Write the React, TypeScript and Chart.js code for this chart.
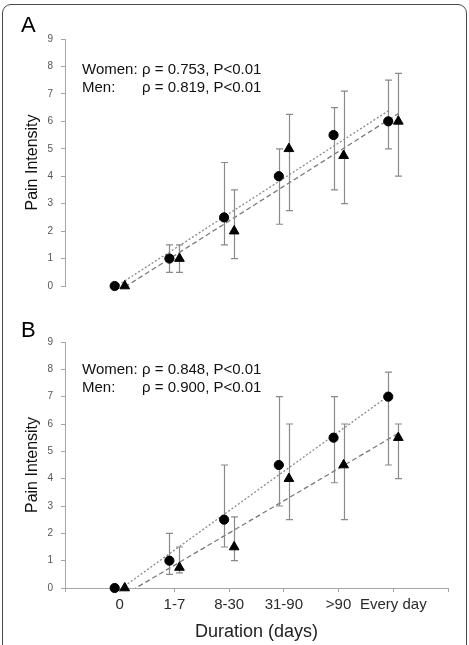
import React, { useEffect, useRef } from "react";
import { Chart, registerables } from "chart.js";

Chart.register(...registerables);

const FONT = "'Liberation Sans', Arial, sans-serif";

const categories = ["0", "1-7", "8-30", "31-90", ">90", "Every day"];

// Panel A
const womenA = [0, 1, 2.5, 4, 5.5, 6];
const womenALow = [0, 0.5, 1.5, 2.25, 3.5, 5];
const womenAHigh = [0, 1.5, 4.5, 5, 6.5, 7.5];
const menA = [0, 1, 2, 5, 4.75, 6];
const menALow = [0, 0.5, 1, 2.75, 3, 4];
const menAHigh = [0, 1.5, 3.5, 6.25, 7.1, 7.75];
const womenATrend = [-0.05, 6.38];
const menATrend = [-0.04, 6.28];

// Panel B
const womenB = [0, 1, 2.5, 4.5, 5.5, 7];
const womenBLow = [0, 0.5, 1.5, 3, 3.85, 4.5];
const womenBHigh = [0, 2, 4.5, 7, 7, 7.9];
const menB = [0, 0.75, 1.5, 4, 4.5, 5.5];
const menBLow = [0, 0.55, 1, 2.5, 2.5, 4];
const menBHigh = [0, 1.5, 2.6, 6, 6, 6];
const womenBTrend = [-0.19, 7.02];
const menBTrend = [-0.24, 5.66];

const OFFSET = 0.092;

const errorBarPlugin = {
  id: "errorBars",
  beforeDatasetDraw(chart: any, args: any) {
    const ds: any = chart.data.datasets[args.index];
    if (!ds.errLow) return;
    const xs = chart.scales.x;
    const ys = chart.scales.y;
    const ctx = chart.ctx;
    ctx.save();
    ctx.strokeStyle = "#8a8a8a";
    ctx.lineWidth = 1.2;
    ds.data.forEach((p: any, i: number) => {
      const lo = ds.errLow[i];
      const hi = ds.errHigh[i];
      if (lo === hi) return;
      const px = Math.round(xs.getPixelForValue(p.x)) + 0.5;
      const y1 = ys.getPixelForValue(lo);
      const y2 = ys.getPixelForValue(hi);
      ctx.beginPath();
      ctx.moveTo(px, y1);
      ctx.lineTo(px, y2);
      ctx.moveTo(px - 3.5, y1);
      ctx.lineTo(px + 3.5, y1);
      ctx.moveTo(px - 3.5, y2);
      ctx.lineTo(px + 3.5, y2);
      ctx.stroke();
    });
    ctx.restore();
  },
};

type PanelProps = {
  women: number[];
  wLow: number[];
  wHigh: number[];
  men: number[];
  mLow: number[];
  mHigh: number[];
  wTrend: number[];
  mTrend: number[];
  showX: boolean;
  width: number;
  height: number;
  padTop: number;
  padBottom: number;
  top: number;
};

function Panel(props: PanelProps) {
  const ref = useRef<HTMLCanvasElement>(null);
  useEffect(() => {
    const p = props;
    const n = p.women.length;
    const chart = new Chart(ref.current as HTMLCanvasElement, {
      type: "scatter",
      data: {
        datasets: [
          {
            data: [
              { x: -OFFSET, y: p.wTrend[0] },
              { x: n - 1 - OFFSET, y: p.wTrend[1] },
            ],
            showLine: true,
            borderColor: "#8a8a8a",
            borderWidth: 1.3,
            borderDash: [2, 2],
            pointRadius: 0,
            clip: 0,
            order: 2,
          } as any,
          {
            data: [
              { x: OFFSET, y: p.mTrend[0] },
              { x: n - 1 + OFFSET, y: p.mTrend[1] },
            ],
            showLine: true,
            borderColor: "#7a7a7a",
            borderWidth: 1.3,
            borderDash: [5, 3],
            pointRadius: 0,
            clip: 0,
            order: 2,
          } as any,
          {
            data: p.women.map((v, i) => ({ x: i - OFFSET, y: v })),
            errLow: p.wLow,
            errHigh: p.wHigh,
            pointStyle: "circle",
            pointRadius: 4.6,
            borderWidth: 1,
            backgroundColor: "#000",
            borderColor: "#000",
            clip: false,
            order: 0,
          } as any,
          {
            data: p.men.map((v, i) => ({ x: i + OFFSET, y: v })),
            errLow: p.mLow,
            errHigh: p.mHigh,
            pointStyle: "triangle",
            pointRadius: 5.6,
            borderWidth: 1,
            backgroundColor: "#000",
            borderColor: "#000",
            clip: false,
            order: 1,
          } as any,
        ],
      },
      options: {
        responsive: false,
        maintainAspectRatio: false,
        animation: false,
        events: [],
        layout: {
          padding: { left: 0, right: 21, top: p.padTop, bottom: p.padBottom },
        },
        plugins: {
          legend: { display: false },
          tooltip: { enabled: false },
        },
        scales: {
          x: {
            type: "linear",
            min: -1,
            max: 6,
            display: p.showX,
            ticks: {
              stepSize: 1,
              autoSkip: false,
              maxRotation: 0,
              minRotation: 0,
              color: "#2a2a2a",
              font: { family: FONT, size: 15 },
              padding: 4,
              callback: (value: any) => {
                const i = Number(value);
                return Number.isInteger(i) && i >= 0 && i < categories.length
                  ? categories[i]
                  : "";
              },
            },
            grid: {
              drawOnChartArea: false,
              drawTicks: true,
              tickLength: 4,
              color: "#a6a6a6",
            },
            border: { color: "#a6a6a6", width: 1 },
            title: {
              display: true,
              text: "Duration (days)",
              color: "#222",
              font: { family: FONT, size: 18 },
              padding: { top: 0, bottom: 2 },
            },
            afterFit: (s: any) => {
              s.height = p.showX ? 57 : 0;
            },
          } as any,
          y: {
            min: 0,
            max: 9,
            ticks: {
              stepSize: 1,
              color: "#555",
              font: { family: FONT, size: 10 },
              padding: 8,
            },
            grid: {
              drawOnChartArea: false,
              drawTicks: true,
              tickLength: 4,
              color: "#a6a6a6",
            },
            border: { color: "#a6a6a6", width: 1 },
            title: {
              display: true,
              text: "Pain Intensity",
              color: "#111",
              font: { family: FONT, size: 16 },
              padding: { top: 23.4, bottom: 0 },
            },
            afterFit: (s: any) => {
              s.width = 65;
            },
          } as any,
        },
      },
      plugins: [errorBarPlugin],
    });
    return () => chart.destroy();
  }, []);
  return (
    <canvas
      ref={ref}
      width={props.width}
      height={props.height}
      style={{
        position: "absolute",
        left: 0,
        top: props.top,
        width: props.width,
        height: props.height,
        display: "block",
      }}
    />
  );
}

const textStyle: React.CSSProperties = {
  position: "absolute",
  left: 82,
  fontFamily: FONT,
  fontSize: 15,
  lineHeight: "18px",
  color: "#111",
  whiteSpace: "nowrap",
  zIndex: 2,
};

function Stats({ top, w, m }: { top: number; w: string; m: string }) {
  return (
    <div style={{ ...textStyle, top }}>
      <div>
        <span style={{ display: "inline-block", width: 60 }}>Women:</span>
        {w}
      </div>
      <div>
        <span style={{ display: "inline-block", width: 60 }}>Men:</span>
        {m}
      </div>
    </div>
  );
}

const letterStyle: React.CSSProperties = {
  position: "absolute",
  left: 21,
  fontFamily: FONT,
  fontSize: 22,
  lineHeight: "22px",
  color: "#000",
  zIndex: 2,
};

export default function App() {
  return (
    <div
      style={{
        position: "absolute",
        left: 0,
        top: 0,
        width: 469,
        height: 645,
        overflow: "hidden",
        background: "#fff",
      }}
    >
      <div
        style={{
          position: "absolute",
          left: 2,
          top: 4,
          width: 463,
          height: 700,
          border: "1.5px solid #4a4a4a",
          borderRadius: 9,
          zIndex: 3,
          pointerEvents: "none",
        }}
      />
      <Panel
        women={womenA}
        wLow={womenALow}
        wHigh={womenAHigh}
        men={menA}
        mLow={menALow}
        mHigh={menAHigh}
        wTrend={womenATrend}
        mTrend={menATrend}
        showX={false}
        width={469}
        height={310}
        padTop={39}
        padBottom={24}
        top={0}
      />
      <Panel
        women={womenB}
        wLow={womenBLow}
        wHigh={womenBHigh}
        men={menB}
        mLow={menBLow}
        mHigh={menBHigh}
        wTrend={womenBTrend}
        mTrend={menBTrend}
        showX={true}
        width={469}
        height={335}
        padTop={32}
        padBottom={0}
        top={310}
      />
      <div style={{ ...letterStyle, top: 14 }}>A</div>
      <div style={{ ...letterStyle, top: 319 }}>B</div>
      <Stats top={60} w="ρ = 0.753, P<0.01" m="ρ = 0.819, P<0.01" />
      <Stats top={360} w="ρ = 0.848, P<0.01" m="ρ = 0.900, P<0.01" />
    </div>
  );
}
